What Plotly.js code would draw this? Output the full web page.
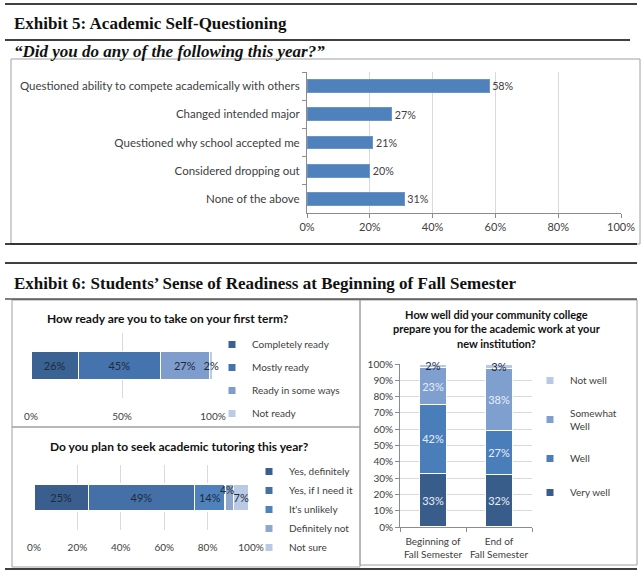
<!DOCTYPE html>
<html>
<head>
<meta charset="utf-8">
<script src="https://cdn.plot.ly/plotly-3.0.1.min.js"></script>
<style>html,body{margin:0;padding:0;background:#fff;}#chart{width:643px;height:575px;}</style>
</head>
<body>
<div id="chart"></div>
<script>
// ---------- DATA ----------
const selfQLabels = ['Questioned ability to compete academically with others','Changed intended major','Questioned why school accepted me','Considered dropping out','None of the above'];
const selfQValues = [58, 27, 21, 20, 31];

const readyLabels = ['Completely ready','Mostly ready','Ready in some ways','Not ready'];
const readyValues = [26, 45, 27, 2];

const tutorLabels = ['Yes, definitely','Yes, if I need it',"It's unlikely",'Definitely not','Not sure'];
const tutorValues = [25, 49, 14, 4, 7];

const prepCategories = ['Beginning of<br>Fall Semester','End of<br>Fall Semester'];
const prepLabels = ['Very well','Well','Somewhat<br>Well','Not well'];
const prepBegin = [33, 42, 23, 2];
const prepEnd = [32, 27, 38, 3];

const percentTicks = [0, 20, 40, 60, 80, 100];
const halfTicks = [0, 50, 100];

// ---------- STYLE ----------
const W = 643, H = 575;
const X = p => p / W;
const Y = p => 1 - p / H;
const FONT = 'Lato, "Open Sans", sans-serif';
const SERIF = '"Liberation Serif", "DejaVu Serif", serif';
const readyColors = ['#3A6293', '#4573AD', '#7E9DCD', '#BBCBE6'];
const tutorColors = ['#3A5F8E', '#4470A7', '#4F81BD', '#8FA6CF', '#BACAE5'];
const prepColors = ['#385D8A', '#4A7EBB', '#7F9FCF', '#B9C9E5'];
const grid = '#D9D9D9', axisCol = '#8C8C8C', txt = '#404040';
const pct = v => v + '%';

const traces = [];
const extraAnnotations = [];

// Chart 1
traces.push({
  type: 'bar', orientation: 'h', y: selfQLabels, x: selfQValues,
  xaxis: 'x', yaxis: 'y', width: 0.45,
  marker: {color: '#4F81BD', line: {color: '#6C96C8', width: 1}},
  text: selfQValues.map(pct), textposition: 'outside', cliponaxis: false,
  textfont: {family: FONT, size: 11, color: txt}, showlegend: false, hoverinfo: 'skip'
});

// Chart 2
readyLabels.forEach((lab, i) => {
  traces.push({
    type: 'bar', orientation: 'h', y: ['r'], x: [readyValues[i]],
    xaxis: 'x2', yaxis: 'y2', width: 0.43, cliponaxis: false,
    marker: {color: readyColors[i], line: {color: '#ffffff', width: 1.2}},
    text: [pct(readyValues[i])], textposition: 'inside', insidetextanchor: 'middle',
    textangle: 0, constraintext: 'none',
    textfont: {family: FONT, size: 11, color: '#1E2A3A'}, showlegend: false, hoverinfo: 'skip'
  });
  traces.push({
    type: 'scatter', mode: 'markers', x: [null], y: [null], xaxis: 'x2', yaxis: 'y2',
    name: lab, legend: 'legend', legendgroup: 'r' + i,
    marker: {symbol: 'square', size: 7, color: readyColors[i]}, hoverinfo: 'skip'
  });
});

// Chart 3
let cum = 0;
tutorLabels.forEach((lab, i) => {
  const v = tutorValues[i];
  const small = v < 5;
  traces.push({
    type: 'bar', orientation: 'h', y: ['t'], x: [v],
    xaxis: 'x3', yaxis: 'y3', width: 0.415, cliponaxis: false,
    marker: {color: tutorColors[i], line: {color: '#ffffff', width: 1.2}},
    text: [small ? '' : pct(v)], textposition: 'inside', insidetextanchor: 'middle',
    textangle: 0, constraintext: 'none',
    textfont: {family: FONT, size: 11, color: '#1E2A3A'}, showlegend: false, hoverinfo: 'skip'
  });
  if (small) {
    extraAnnotations.push({xref: 'x3', yref: 'y3', x: cum + v / 2, y: 't', yshift: 8, xshift: -2, showarrow: false,
      text: pct(v), font: {family: FONT, size: 10.5, color: '#1E2A3A'}});
  }
  cum += v;
  traces.push({
    type: 'scatter', mode: 'markers', x: [null], y: [null], xaxis: 'x3', yaxis: 'y3',
    name: lab, legend: 'legend2', legendgroup: 't' + i,
    marker: {symbol: 'square', size: 7, color: tutorColors[i]}, hoverinfo: 'skip'
  });
});

// Chart 4
prepLabels.forEach((lab, i) => {
  const vals = [prepBegin[i], prepEnd[i]];
  traces.push({
    type: 'bar', x: prepCategories, y: vals,
    xaxis: 'x4', yaxis: 'y4', width: 0.42, cliponaxis: false,
    marker: {color: prepColors[i], line: {color: '#ffffff', width: 1.2}},
    text: vals.map(pct), textposition: 'inside', insidetextanchor: 'middle',
    textangle: 0, constraintext: 'none',
    textfont: {family: FONT, size: 11, color: i === 3 ? '#1E2A3A' : '#E8EEF7'},
    showlegend: false, hoverinfo: 'skip'
  });
});
for (let i = prepLabels.length - 1; i >= 0; i--) {
  traces.push({
    type: 'scatter', mode: 'markers', x: [null], y: [null], xaxis: 'x4', yaxis: 'y4',
    name: prepLabels[i], legend: 'legend3', legendgroup: 'p' + i,
    marker: {symbol: 'square', size: 7, color: prepColors[i]}, hoverinfo: 'skip'
  });
}

const tickFont = {family: FONT, size: 10, color: txt};

const layout = {
  width: W, height: H, margin: {l: 0, r: 0, t: 0, b: 0},
  paper_bgcolor: '#ffffff', plot_bgcolor: 'rgba(0,0,0,0)',
  barmode: 'stack', bargap: 0,
  font: {family: FONT, color: txt},
  xaxis: {domain: [X(307), X(621)], anchor: 'y', range: [0, 100], tickmode: 'array', tickvals: percentTicks, ticktext: percentTicks.map(pct),
    showgrid: true, gridcolor: grid, zeroline: false, showline: true, linecolor: axisCol,
    ticks: 'outside', ticklen: 4, tickcolor: axisCol, tickfont: {family: FONT, size: 11, color: txt}, fixedrange: true},
  yaxis: {domain: [Y(213), Y(72)], anchor: 'x', autorange: 'reversed', showgrid: false, zeroline: false,
    showline: true, linecolor: axisCol, ticks: 'outside', ticklen: 4, tickcolor: axisCol, tickson: 'boundaries',
    tickfont: {family: FONT, size: 11.5, color: txt}, ticklabelstandoff: 4, fixedrange: true},

  xaxis2: {domain: [X(31), X(213)], anchor: 'y2', range: [0, 100], tickmode: 'array', tickvals: halfTicks, ticktext: halfTicks.map(pct),
    showgrid: true, gridcolor: grid, zeroline: false, showline: false, tickfont: tickFont, ticklabelstandoff: 11, fixedrange: true},
  yaxis2: {domain: [Y(398), Y(333)], anchor: 'x2', range: [-0.5, 0.5], showticklabels: false, showgrid: false, zeroline: false, fixedrange: true},

  xaxis3: {domain: [X(34), X(251)], anchor: 'y3', range: [0, 100], tickmode: 'array', tickvals: percentTicks, ticktext: percentTicks.map(pct),
    showgrid: true, gridcolor: grid, zeroline: false, showline: false, tickfont: tickFont, ticklabelstandoff: 10, fixedrange: true},
  yaxis3: {domain: [Y(530), Y(465)], anchor: 'x3', range: [-0.5, 0.5], showticklabels: false, showgrid: false, zeroline: false, fixedrange: true},

  xaxis4: {domain: [X(400), X(532)], anchor: 'y4', showline: true, linecolor: axisCol, ticks: 'outside', ticklen: 4,
    tickcolor: axisCol, tickson: 'boundaries', tickangle: 0, tickfont: tickFont, ticklabelstandoff: 5, fixedrange: true},
  yaxis4: {domain: [Y(527), Y(364)], anchor: 'x4', range: [0, 100], dtick: 10, ticksuffix: '%',
    showgrid: true, gridcolor: grid, zeroline: false, showline: true, linecolor: axisCol, ticks: 'outside', ticklen: 4,
    tickcolor: axisCol, tickfont: tickFont, fixedrange: true},

  legend: {x: X(212), y: Y(330), xanchor: 'left', yanchor: 'top', traceorder: 'grouped', tracegroupgap: 4,
    bgcolor: 'rgba(0,0,0,0)', font: {family: FONT, size: 10, color: txt}},
  legend2: {x: X(249), y: Y(457), xanchor: 'left', yanchor: 'top', traceorder: 'grouped', tracegroupgap: 0,
    bgcolor: 'rgba(0,0,0,0)', font: {family: FONT, size: 10, color: txt}},
  legend3: {x: X(530), y: Y(366), xanchor: 'left', yanchor: 'top', traceorder: 'grouped', tracegroupgap: 15,
    bgcolor: 'rgba(0,0,0,0)', font: {family: FONT, size: 10, color: txt}},

  shapes: [
    {type: 'line', xref: 'paper', yref: 'paper', x0: X(5), x1: X(637), y0: Y(4), y1: Y(4), line: {color: '#000', width: 1.5}},
    {type: 'line', xref: 'paper', yref: 'paper', x0: X(5), x1: X(630), y0: Y(40), y1: Y(40), line: {color: '#000', width: 1.5}},
    {type: 'rect', xref: 'paper', yref: 'paper', x0: X(11), x1: X(640), y0: Y(244), y1: Y(59), line: {color: '#A0A0A0', width: 1}},
    {type: 'line', xref: 'paper', yref: 'paper', x0: X(5), x1: X(637), y0: Y(244), y1: Y(244), line: {color: '#000', width: 1.5}},
    {type: 'line', xref: 'paper', yref: 'paper', x0: X(5), x1: X(637), y0: Y(263), y1: Y(263), line: {color: '#000', width: 1.5}},
    {type: 'rect', xref: 'paper', yref: 'paper', x0: X(12), x1: X(360), y0: Y(427), y1: Y(300), line: {color: '#A0A0A0', width: 1}},
    {type: 'rect', xref: 'paper', yref: 'paper', x0: X(12), x1: X(360), y0: Y(567), y1: Y(427), line: {color: '#A0A0A0', width: 1}},
    {type: 'rect', xref: 'paper', yref: 'paper', x0: X(360), x1: X(637), y0: Y(565), y1: Y(300), line: {color: '#A0A0A0', width: 1}},
    {type: 'line', xref: 'paper', yref: 'paper', x0: X(5), x1: X(637), y0: Y(299), y1: Y(299), line: {color: '#000', width: 1.2}},
    {type: 'line', xref: 'paper', yref: 'paper', x0: X(5), x1: X(637), y0: Y(569), y1: Y(569), line: {color: '#000', width: 1.5}}
  ],

  annotations: [
    {xref: 'paper', yref: 'paper', x: X(12), y: Y(23), xanchor: 'left', yanchor: 'middle', showarrow: false,
      text: '<b>Exhibit 5: Academic Self-Questioning</b>', font: {family: SERIF, size: 17, color: '#111'}},
    {xref: 'paper', yref: 'paper', x: X(12), y: Y(51), xanchor: 'left', yanchor: 'middle', showarrow: false,
      text: '<b><i>“Did you do any of the following this year?”</i></b>', font: {family: SERIF, size: 17, color: '#111'}},
    {xref: 'paper', yref: 'paper', x: X(12), y: Y(283), xanchor: 'left', yanchor: 'middle', showarrow: false,
      text: '<b>Exhibit 6: Students’ Sense of Readiness at Beginning of Fall Semester</b>', font: {family: SERIF, size: 17, color: '#111'}},
    {xref: 'paper', yref: 'paper', x: X(168), y: Y(318), xanchor: 'center', yanchor: 'middle', showarrow: false,
      text: '<b>How ready are you to take on your first term?</b>', font: {family: FONT, size: 12, color: '#111'}},
    {xref: 'paper', yref: 'paper', x: X(179), y: Y(446), xanchor: 'center', yanchor: 'middle', showarrow: false,
      text: '<b>Do you plan to seek academic tutoring this year?</b>', font: {family: FONT, size: 12, color: '#111'}},
    {xref: 'paper', yref: 'paper', x: X(497), y: Y(329), xanchor: 'center', yanchor: 'middle', showarrow: false,
      text: '<b>How well did your community college<br>prepare you for the academic work at your<br>new institution?</b>',
      font: {family: FONT, size: 11, color: '#111'}}
  ].concat(extraAnnotations)
};

Plotly.newPlot('chart', traces, layout, {displayModeBar: false, staticPlot: true});
</script>
</body>
</html>
